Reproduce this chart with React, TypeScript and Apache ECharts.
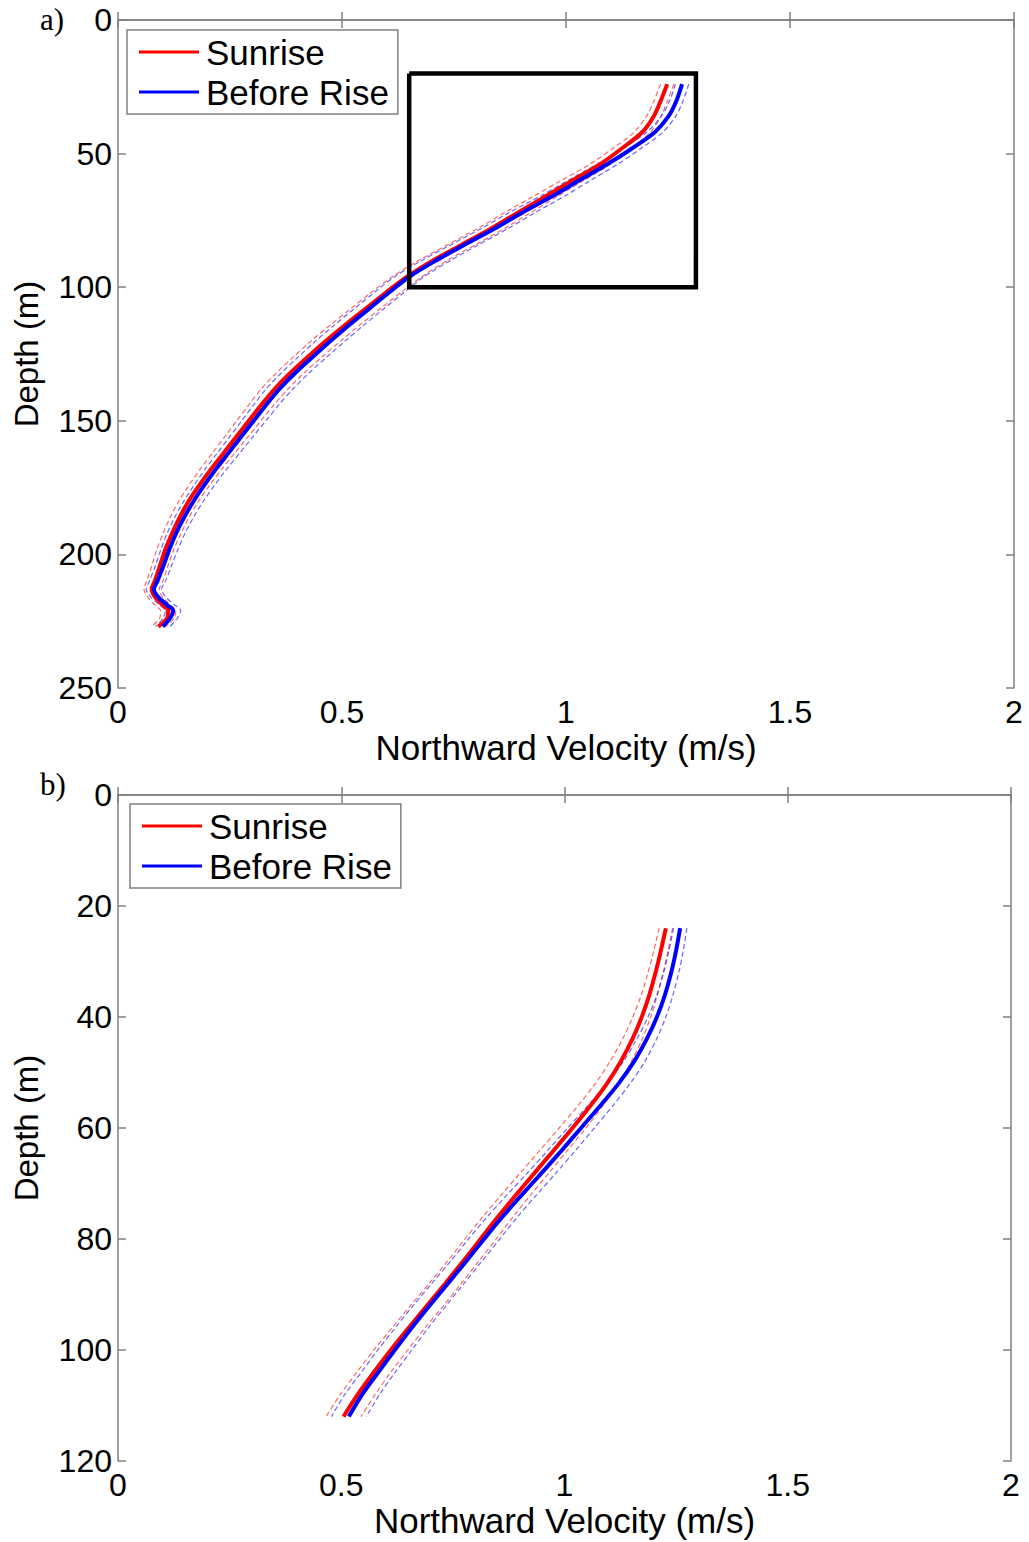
import React, { useEffect, useRef } from "react";
import * as echarts from "echarts";

// ---- Panel a (full profile) ----
const depthA = [24, 30, 36, 42, 48, 54, 60, 66, 72, 78, 84, 90, 96, 102, 108, 114, 120, 126, 132, 138, 144, 150, 156, 162, 168, 174, 180, 186, 192, 198, 204, 210, 213, 216, 219, 221, 224, 227];
const sunriseA = [1.226, 1.212, 1.196, 1.170, 1.125, 1.076, 1.015, 0.954, 0.893, 0.833, 0.768, 0.703, 0.646, 0.598, 0.553, 0.508, 0.465, 0.424, 0.385, 0.350, 0.320, 0.292, 0.264, 0.236, 0.208, 0.182, 0.158, 0.138, 0.121, 0.106, 0.094, 0.082, 0.075, 0.083, 0.100, 0.112, 0.109, 0.090];
const beforeA = [1.259, 1.247, 1.229, 1.198, 1.148, 1.092, 1.030, 0.969, 0.903, 0.841, 0.775, 0.710, 0.651, 0.605, 0.561, 0.517, 0.475, 0.435, 0.396, 0.361, 0.331, 0.303, 0.275, 0.247, 0.219, 0.193, 0.169, 0.148, 0.130, 0.115, 0.102, 0.088, 0.080, 0.090, 0.110, 0.123, 0.116, 0.100];
const ciA = [0.015, 0.015, 0.016, 0.018, 0.020, 0.023, 0.025, 0.027, 0.029, 0.030, 0.031, 0.032, 0.033, 0.033, 0.033, 0.033, 0.033, 0.032, 0.031, 0.030, 0.028, 0.027, 0.026, 0.025, 0.024, 0.023, 0.022, 0.021, 0.020, 0.019, 0.018, 0.018, 0.017, 0.017, 0.017, 0.017, 0.016, 0.016];

// zoom box drawn in panel a (velocity, depth corners)
const boxVel = [0.65, 1.29, 1.29, 0.65, 0.65];
const boxDepth = [20, 20, 100, 100, 20];

// ---- Panel b (upper profile) ----
const depthB = [24, 28, 32, 36, 40, 44, 48, 52, 56, 60, 64, 68, 72, 76, 80, 84, 88, 92, 96, 100, 104, 108, 112];
const sunriseB = [1.227, 1.216, 1.204, 1.190, 1.173, 1.152, 1.126, 1.095, 1.058, 1.018, 0.976, 0.934, 0.892, 0.851, 0.812, 0.773, 0.733, 0.692, 0.651, 0.611, 0.573, 0.537, 0.505];
const beforeB = [1.259, 1.250, 1.239, 1.225, 1.207, 1.184, 1.156, 1.121, 1.080, 1.037, 0.994, 0.950, 0.905, 0.861, 0.820, 0.780, 0.739, 0.698, 0.658, 0.620, 0.583, 0.547, 0.517];
const ciB = [0.015, 0.016, 0.017, 0.018, 0.020, 0.022, 0.024, 0.026, 0.028, 0.030, 0.031, 0.032, 0.033, 0.034, 0.035, 0.035, 0.036, 0.037, 0.037, 0.038, 0.038, 0.039, 0.039];

const seriesNames = ["Sunrise", "Before Rise"];
const xTicks = { min: 0, max: 2, interval: 0.5 };
const yTicksA = { min: 0, max: 250, interval: 50 };
const yTicksB = { min: 0, max: 120, interval: 20 };

const RED = "#ff0000";
const BLUE = "#0000ff";
const AXIS = "#808080";
const FONT = "Liberation Sans, Arial, sans-serif";

function pairs(vel: number[], depth: number[], off: number[] | null, sign: number) {
  return depth.map((d, i) => [vel[i] + (off ? sign * off[i] : 0), d]);
}

function dashed(name: string, color: string, data: number[][], xi: number, yi: number) {
  return {
    type: "line", name, xAxisIndex: xi, yAxisIndex: yi, data,
    showSymbol: false, symbol: "none", smooth: 0.3, silent: true,
    lineStyle: { color, width: 1.2, type: [5, 3], opacity: 0.6 },
    color, z: 2,
  };
}
function main(name: string, color: string, data: number[][], xi: number, yi: number) {
  return {
    type: "line", name, xAxisIndex: xi, yAxisIndex: yi, data,
    showSymbol: false, symbol: "none", smooth: 0.3,
    lineStyle: { color, width: 4 }, itemStyle: { color },
    color, z: 3,
  };
}

function xAxes(gridIndex: number) {
  return [
    {
      type: "value", gridIndex, position: "bottom", ...xTicks,
      axisLine: { show: true, lineStyle: { color: AXIS, width: 1.5 } },
      axisTick: { show: true, inside: true, length: 8, lineStyle: { color: AXIS, width: 1.5 } },
      axisLabel: { color: "#000", fontSize: 32, fontFamily: FONT, margin: 8 },
      splitLine: { show: false },
      name: "Northward Velocity (m/s)", nameLocation: "middle", nameGap: 42,
      nameTextStyle: { color: "#000", fontSize: 35, fontFamily: FONT },
    },
    {
      type: "value", gridIndex, position: "top", ...xTicks,
      axisLine: { show: true, lineStyle: { color: AXIS, width: 1.5 } },
      axisTick: { show: true, inside: true, length: 8, lineStyle: { color: AXIS, width: 1.5 } },
      axisLabel: { show: false }, splitLine: { show: false },
    },
  ];
}
function yAxes(gridIndex: number, ticks: any) {
  return [
    {
      type: "value", gridIndex, position: "left", inverse: true, ...ticks,
      axisLine: { show: true, onZero: false, lineStyle: { color: AXIS, width: 1.5 } },
      axisTick: { show: true, inside: true, length: 8, lineStyle: { color: AXIS, width: 1.5 } },
      axisLabel: { color: "#000", fontSize: 32, fontFamily: FONT, margin: 6 },
      splitLine: { show: false },
      name: "Depth (m)", nameLocation: "middle", nameGap: 75, nameRotate: 90,
      nameTextStyle: { color: "#000", fontSize: 33, fontFamily: FONT },
    },
    {
      type: "value", gridIndex, position: "right", inverse: true, ...ticks,
      axisLine: { show: true, onZero: false, lineStyle: { color: AXIS, width: 1.5 } },
      axisTick: { show: true, inside: true, length: 8, lineStyle: { color: AXIS, width: 1.5 } },
      axisLabel: { show: false }, splitLine: { show: false },
    },
  ];
}

function legend(left: number, top: number) {
  return {
    data: seriesNames, orient: "vertical", left, top,
    icon: "rect", itemWidth: 60, itemHeight: 3, itemGap: 4,
    backgroundColor: "#fff", borderColor: AXIS, borderWidth: 1.5,
    padding: [4, 9, 4, 12], selectedMode: false,
    textStyle: { color: "#000", fontSize: 35, fontFamily: FONT, lineHeight: 36, padding: [0, 0, 0, 2] },
  };
}

export default function App() {
  const ref = useRef<HTMLDivElement>(null);
  useEffect(() => {
    document.body.style.margin = "0";
    if (!ref.current) return;
    const chart = echarts.init(ref.current, null, { renderer: "svg" });
    const option: any = {
      animation: false,
      backgroundColor: "#fff",
      grid: [
        { left: 118, top: 20, width: 896, height: 668, containLabel: false },
        { left: 118, top: 795, width: 893, height: 666, containLabel: false },
      ],
      xAxis: [...xAxes(0), ...xAxes(1)],
      yAxis: [...yAxes(0, yTicksA), ...yAxes(1, yTicksB)],
      legend: [legend(127, 30), legend(130, 804)],
      graphic: [
        { type: "text", left: 40, top: 4, style: { text: "a)", font: "31px 'Liberation Serif', serif", fill: "#000" } },
        { type: "text", left: 40, top: 769, style: { text: "b)", font: "31px 'Liberation Serif', serif", fill: "#000" } },
      ],
      series: [
        dashed("Sunrise lower", RED, pairs(sunriseA, depthA, ciA, -1), 0, 0),
        dashed("Sunrise upper", RED, pairs(sunriseA, depthA, ciA, 1), 0, 0),
        dashed("Before Rise lower", BLUE, pairs(beforeA, depthA, ciA, -1), 0, 0),
        dashed("Before Rise upper", BLUE, pairs(beforeA, depthA, ciA, 1), 0, 0),
        main("Sunrise", RED, pairs(sunriseA, depthA, null, 0), 0, 0),
        main("Before Rise", BLUE, pairs(beforeA, depthA, null, 0), 0, 0),
        {
          type: "line", name: "box", xAxisIndex: 0, yAxisIndex: 0,
          data: boxVel.map((v, i) => [v, boxDepth[i]]),
          showSymbol: false, symbol: "none", silent: true,
          lineStyle: { color: "#000", width: 4.5, join: "miter" }, z: 4,
        },
        dashed("Sunrise lower b", RED, pairs(sunriseB, depthB, ciB, -1), 2, 2),
        dashed("Sunrise upper b", RED, pairs(sunriseB, depthB, ciB, 1), 2, 2),
        dashed("Before Rise lower b", BLUE, pairs(beforeB, depthB, ciB, -1), 2, 2),
        dashed("Before Rise upper b", BLUE, pairs(beforeB, depthB, ciB, 1), 2, 2),
        main("Sunrise", RED, pairs(sunriseB, depthB, null, 0), 2, 2),
        main("Before Rise", BLUE, pairs(beforeB, depthB, null, 0), 2, 2),
      ],
    };
    chart.setOption(option);
    return () => chart.dispose();
  }, []);
  return <div ref={ref} style={{ width: 1029, height: 1542 }} />;
}
